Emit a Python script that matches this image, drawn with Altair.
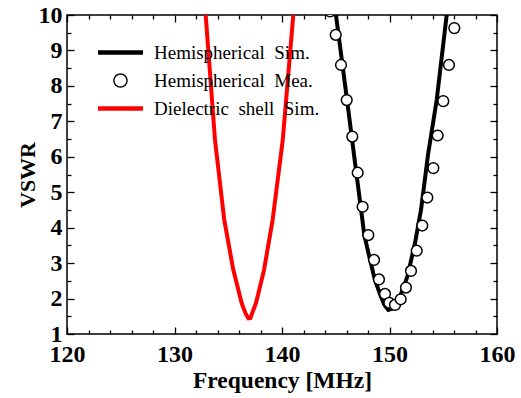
import altair as alt
import pandas as pd

# ---- data ----
diel_sim_freq = [132.90, 133.77, 134.63, 135.47, 136.25, 136.60, 136.87, 137.07, 137.30, 137.58, 138.33, 139.13, 140.07, 141.05]
diel_sim_vswr = [10.0, 6.47, 4.22, 2.81, 1.87, 1.59, 1.44, 1.45, 1.65, 1.87, 2.81, 4.22, 6.47, 10.0]

hemi_sim_freq = [145.02, 146.05, 146.88, 147.66, 148.19, 148.65, 149.21, 149.53, 149.89, 150.23, 150.60, 150.98, 151.66, 152.37, 152.93, 153.58, 154.39, 155.32]
hemi_sim_vswr = [10.0, 7.60, 5.63, 3.79, 3.09, 2.52, 2.05, 1.82, 1.68, 1.71, 1.82, 2.05, 2.62, 3.56, 4.50, 6.05, 7.60, 10.0]

hemi_mea_freq = [144.47, 145.00, 145.49, 146.02, 146.54, 147.04, 147.50, 148.03, 148.56, 149.02, 149.58, 149.98,
                 150.51, 151.04, 151.53, 152.00, 152.53, 153.05, 153.52, 154.08, 154.48, 155.00, 155.53, 156.03]
hemi_mea_vswr = [10.1, 9.44, 8.59, 7.60, 6.57, 5.55, 4.59, 3.79, 3.09, 2.54, 2.13, 1.88,
                 1.82, 1.98, 2.31, 2.78, 3.35, 4.06, 4.85, 5.68, 6.60, 7.57, 8.59, 9.63]

series_names = ["Hemispherical\u00a0\u00a0Sim.", "Hemispherical\u00a0\u00a0Mea.", "Dielectric\u00a0\u00a0shell\u00a0\u00a0Sim."]
series_colors = ["black", "black", "red"]

x_major = [120, 130, 140, 150, 160]
x_minor = [122, 124, 126, 128, 132, 134, 136, 138, 142, 144, 146, 148, 152, 154, 156, 158]
y_major = [1, 2, 3, 4, 5, 6, 7, 8, 9, 10]
y_minor = [1.5, 2.5, 3.5, 4.5, 5.5, 6.5, 7.5, 8.5, 9.5]

W, H = 430, 319
FONT = "Liberation Serif, Times New Roman, serif"

diel_df = pd.DataFrame({"f": diel_sim_freq, "v": diel_sim_vswr})
hemi_df = pd.DataFrame({"f": hemi_sim_freq, "v": hemi_sim_vswr})
mea_df = pd.DataFrame({"f": hemi_mea_freq, "v": hemi_mea_vswr})
legend_df = pd.DataFrame({"series": series_names, "f": [None] * 3, "v": [None] * 3})
dummy_df = pd.DataFrame({"f": [None], "v": [None]})

xscale = alt.Scale(domain=[120, 160], nice=False, zero=False)
yscale = alt.Scale(domain=[1, 10], nice=False, zero=False)


def tick_axis(orient, values, size):
    return alt.Axis(orient=orient, offset=-(H if orient in ("top", "bottom") else W),
                    values=values, labels=False, domain=False, grid=False, ticks=True,
                    tickSize=size, tickWidth=1.3, tickColor="black", title=None)


x_label_axis = alt.Axis(orient="bottom", values=x_major, ticks=False, domain=False, grid=False,
                        labelFlush=False, labelOverlap=False, labelFont=FONT, labelFontSize=24,
                        labelFontWeight="bold", labelColor="black", labelPadding=8,
                        title="Frequency [MHz]", titleFont=FONT, titleFontSize=23.5,
                        titleFontWeight="bold", titleColor="black", titlePadding=2)
y_label_axis = alt.Axis(orient="left", values=y_major, ticks=False, domain=False, grid=False,
                        labelFlush=False, labelOverlap=False, labelFont=FONT, labelFontSize=24,
                        labelFontWeight="bold", labelColor="black", labelPadding=5,
                        title="VSWR", titleFont=FONT, titleFontSize=22,
                        titleFontWeight="bold", titleColor="black", titlePadding=-1)

red_line = alt.Chart(diel_df).mark_line(color="red", strokeWidth=4, clip=True).encode(
    x=alt.X("f:Q", scale=xscale, axis=x_label_axis),
    y=alt.Y("v:Q", scale=yscale, axis=y_label_axis),
)

black_line = alt.Chart(hemi_df).mark_line(color="black", strokeWidth=4, clip=True).encode(
    x=alt.X("f:Q", scale=xscale, axis=tick_axis("top", x_major, 7)),
    y=alt.Y("v:Q", scale=yscale, axis=tick_axis("right", y_major, 7)),
)

circles = alt.Chart(mea_df).mark_point(shape="circle", size=115, fill="white", stroke="black",
                                       strokeWidth=1.5, opacity=1, clip=True).encode(
    x=alt.X("f:Q", scale=xscale, axis=tick_axis("top", x_minor, 4)),
    y=alt.Y("v:Q", scale=yscale, axis=tick_axis("right", y_minor, 4)),
)

line_sym = "M-4.5,-0.45H4.5V0.45H-4.5Z"
ring_sym = ("M-1.45,0A1.45,1.45,0,1,1,1.45,0A1.45,1.45,0,1,1,-1.45,0Z"
            "M-1.17,0A1.17,1.17,0,1,0,1.17,0A1.17,1.17,0,1,0,-1.17,0Z")

legend_cfg = alt.Legend(orient="none", legendX=44, legendY=28, title=None, padding=0,
                        symbolSize=100, symbolStrokeWidth=0, labelFont=FONT, labelFontSize=19,
                        labelColor="black", labelOffset=24, rowPadding=8, labelLimit=400)

legend_layer = alt.Chart(legend_df).mark_point(filled=True, opacity=1, size=100).encode(
    x=alt.X("f:Q", scale=xscale, axis=tick_axis("bottom", x_major, 7)),
    y=alt.Y("v:Q", scale=yscale, axis=tick_axis("left", y_major, 7)),
    color=alt.Color("series:N", scale=alt.Scale(domain=series_names, range=series_colors), legend=legend_cfg),
    shape=alt.Shape("series:N", scale=alt.Scale(domain=series_names, range=[line_sym, ring_sym, line_sym]), legend=legend_cfg),
)

dummy_layer = alt.Chart(dummy_df).mark_point(opacity=0).encode(
    x=alt.X("f:Q", scale=xscale, axis=tick_axis("bottom", x_minor, 4)),
    y=alt.Y("v:Q", scale=yscale, axis=tick_axis("left", y_minor, 4)),
)

chart = alt.layer(red_line, black_line, circles, legend_layer, dummy_layer).resolve_axis(
    x="independent", y="independent"
).properties(
    width=W, height=H,
    autosize=alt.AutoSizeParams(type="none"),
    padding={"left": 67, "top": 15, "right": 24, "bottom": 64},
    background="white",
).configure_view(stroke="black", strokeWidth=1.5)

chart.save("out.html", embed_options={"renderer": "svg", "actions": False})
